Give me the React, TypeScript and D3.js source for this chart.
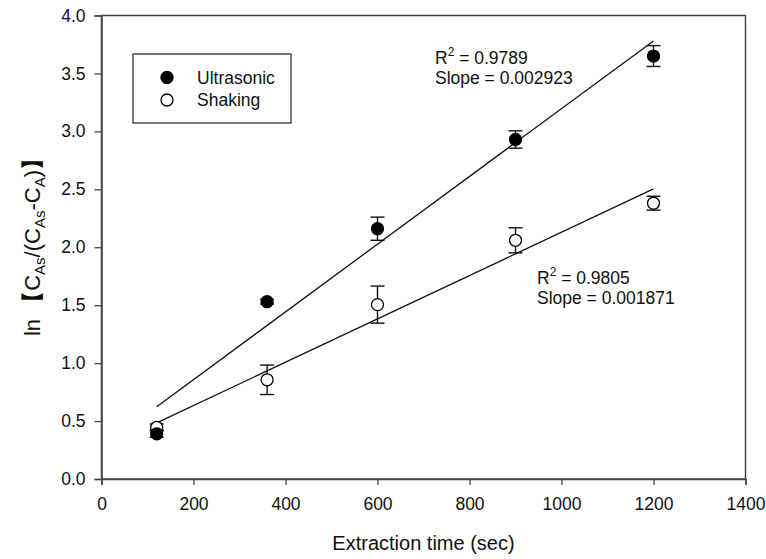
import { useEffect, useRef } from 'react'
import * as d3 from 'd3'

const times = [120, 360, 600, 900, 1200]
const ultrasonic = [0.39, 1.53, 2.16, 2.93, 3.65]
const ultrasonicErr = [0.03, 0.02, 0.1, 0.075, 0.09]
const shaking = [0.445, 0.856, 1.505, 2.06, 2.38]
const shakingErr = [0.03, 0.127, 0.16, 0.108, 0.06]
const xTicks = [0, 200, 400, 600, 800, 1000, 1200, 1400]
const yTicks = [0, 0.5, 1, 1.5, 2, 2.5, 3, 3.5, 4]
const fits = [
  { name: 'Ultrasonic', r2: '0.9789', slope: 0.002923, values: ultrasonic },
  { name: 'Shaking', r2: '0.9805', slope: 0.001871, values: shaking },
]

const FONT = '"Liberation Sans", Arial, sans-serif'
const AXIS = '#444'

export default function App() {
  const ref = useRef<SVGSVGElement>(null)

  useEffect(() => {
    document.body.style.margin = '0'
    if (!ref.current) return
    const width = 766
    const height = 559
    const margin = { top: 15.5, right: 20.5, bottom: 80, left: 101.5 }
    const innerW = width - margin.left - margin.right
    const innerH = height - margin.top - margin.bottom

    const svg = d3.select(ref.current)
    svg.selectAll('*').remove()
    const g = svg.append('g').attr('transform', `translate(${margin.left},${margin.top})`)

    const x = d3.scaleLinear().domain([0, 1400]).range([0, innerW])
    const y = d3.scaleLinear().domain([0, 4]).range([innerH, 0])

    // frame
    g.append('rect')
      .attr('width', innerW)
      .attr('height', innerH)
      .attr('fill', 'none')
      .attr('stroke', AXIS)
      .attr('stroke-width', 1.5)

    const xAxis = g.append('g')
      .attr('transform', `translate(0,${innerH})`)
      .call(d3.axisBottom(x).tickValues(xTicks).tickSize(6).tickPadding(13).tickFormat(d3.format('d')))
    const yAxis = g.append('g')
      .call(d3.axisLeft(y).tickValues(yTicks).tickSize(7).tickPadding(9).tickFormat(d3.format('.1f')))
    ;[xAxis, yAxis].forEach((a) => {
      a.select('.domain').attr('stroke', AXIS).attr('stroke-width', 1.5)
      a.selectAll('line').attr('stroke', AXIS).attr('stroke-width', 1.3)
      a.selectAll('text').attr('fill', '#111').attr('font-size', '17.5px').attr('font-family', FONT)
    })

    // regression lines
    const meanX = d3.mean(times) as number
    fits.forEach((f) => {
      const b = (d3.mean(f.values) as number) - f.slope * meanX
      g.append('line')
        .attr('x1', x(times[0]))
        .attr('y1', y(b + f.slope * times[0]))
        .attr('x2', x(times[times.length - 1]))
        .attr('y2', y(b + f.slope * times[times.length - 1]))
        .attr('stroke', '#111')
        .attr('stroke-width', 1.3)
    })

    const drawSeries = (vals: number[], errs: number[], filled: boolean) => {
      vals.forEach((v, i) => {
        const cx = x(times[i])
        const top = y(v + errs[i])
        const bot = y(v - errs[i])
        const eg = g.append('g').attr('stroke', '#111').attr('stroke-width', 1.4)
        eg.append('line').attr('x1', cx).attr('x2', cx).attr('y1', top).attr('y2', bot)
        eg.append('line').attr('x1', cx - 7).attr('x2', cx + 7).attr('y1', top).attr('y2', top)
        eg.append('line').attr('x1', cx - 7).attr('x2', cx + 7).attr('y1', bot).attr('y2', bot)
        g.append('circle')
          .attr('cx', cx)
          .attr('cy', y(v))
          .attr('r', 6)
          .attr('fill', filled ? '#000' : '#fff')
          .attr('stroke', '#000')
          .attr('stroke-width', 1.3)
      })
    }
    drawSeries(shaking, shakingErr, false)
    drawSeries(ultrasonic, ultrasonicErr, true)

    // legend
    const lg = svg.append('g').attr('transform', 'translate(133,54)')
    lg.append('rect').attr('width', 158).attr('height', 69).attr('fill', '#fff').attr('stroke', '#222').attr('stroke-width', 1.2)
    fits.forEach((f, i) => {
      lg.append('circle')
        .attr('cx', 34)
        .attr('cy', 23.5 + i * 22.5)
        .attr('r', 6)
        .attr('fill', i === 0 ? '#000' : '#fff')
        .attr('stroke', '#000')
        .attr('stroke-width', 1.3)
      lg.append('text')
        .attr('x', 64)
        .attr('y', 23.5 + i * 22.5)
        .attr('dy', '0.35em')
        .attr('font-size', '17.5px')
        .attr('font-family', FONT)
        .attr('fill', '#111')
        .text(f.name)
    })

    // annotations
    const annot = [
      { left: 435, base: 64, fit: fits[0] },
      { left: 537, base: 284, fit: fits[1] },
    ]
    annot.forEach((a) => {
      const t = svg.append('text')
        .attr('font-family', FONT)
        .attr('font-size', '17.5px')
        .attr('fill', '#111')
      t.append('tspan').attr('x', a.left).attr('y', a.base).text('R')
      t.append('tspan').attr('dy', -8).attr('font-size', '12px').text('2')
      t.append('tspan').attr('dy', 8).text(` = ${a.fit.r2}`)
      svg.append('text')
        .attr('font-family', FONT)
        .attr('font-size', '17.5px')
        .attr('fill', '#111')
        .attr('x', a.left)
        .attr('y', a.base + 20)
        .text(`Slope = ${a.fit.slope.toFixed(6)}`)
    })

    // axis titles
    svg.append('text')
      .attr('x', margin.left + innerW / 2)
      .attr('y', 550)
      .attr('text-anchor', 'middle')
      .attr('font-family', FONT)
      .attr('font-size', '20px')
      .attr('fill', '#111')
      .text('Extraction time (sec)')

    const yl = svg.append('text')
      .attr('transform', `translate(40,242) rotate(-90)`)
      .attr('text-anchor', 'middle')
      .attr('font-family', FONT)
      .attr('font-size', '22px')
      .attr('fill', '#111')
    yl.append('tspan').text('ln ')
    yl.append('tspan').attr('font-weight', 'bold').text('【')
    yl.append('tspan').text('C')
    yl.append('tspan').attr('dy', 5).attr('font-size', '15px').text('As')
    yl.append('tspan').attr('dy', -5).text('/(C')
    yl.append('tspan').attr('dy', 5).attr('font-size', '15px').text('As')
    yl.append('tspan').attr('dy', -5).text('-C')
    yl.append('tspan').attr('dy', 5).attr('font-size', '15px').text('A')
    yl.append('tspan').attr('dy', -5).text(')')
    yl.append('tspan').attr('font-weight', 'bold').text('】')
  }, [])

  return <svg ref={ref} width={766} height={559} style={{ display: 'block', background: '#fff' }} />
}
